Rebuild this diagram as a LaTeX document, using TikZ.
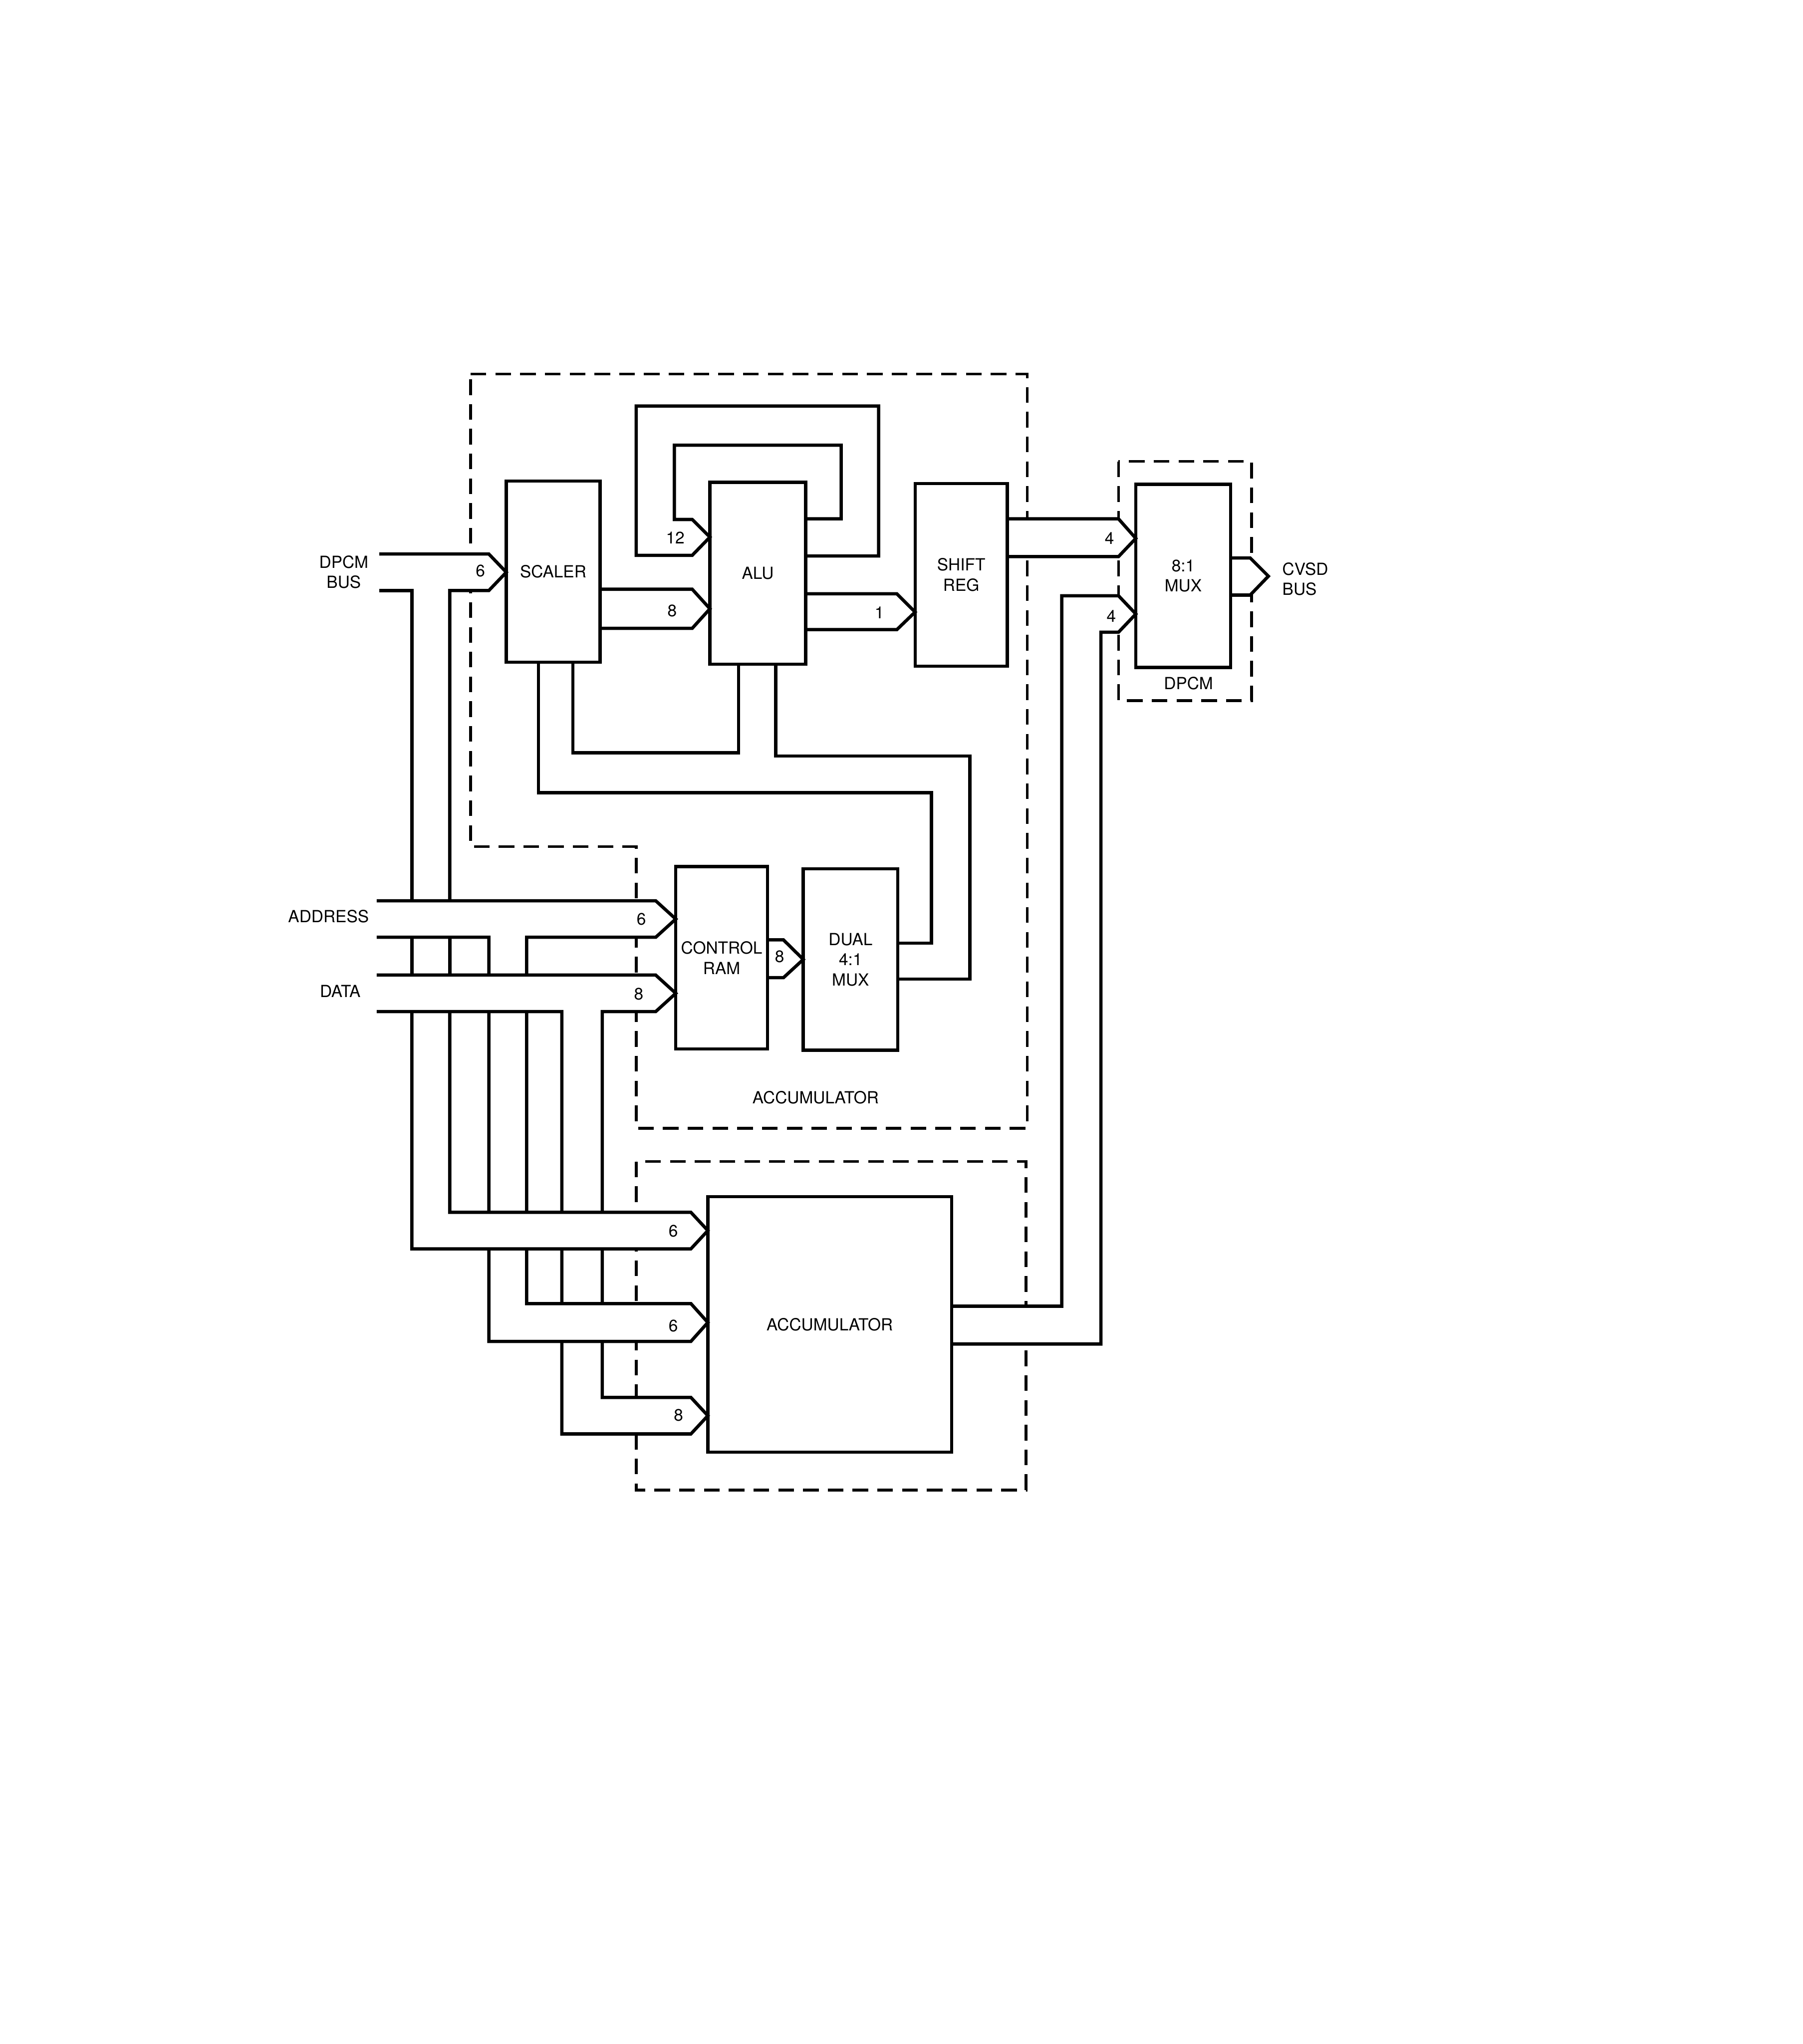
\documentclass[tikz,border=0pt]{standalone}
\usepackage{fontspec}
\setmainfont{TeX Gyre Heros}
\newcommand\figfont{\fontsize{12.8}{15.5}\selectfont}
\begin{document}
\begin{tikzpicture}[x=1pt,y=-1pt,
  wire/.style={line width=2.5pt, line join=miter},
  blk/.style={draw, line width=2.5pt, inner sep=0pt, outer sep=0pt, align=center, font=\figfont},
  dbox/.style={line width=2.1pt, dash pattern=on 12pt off 7pt},
  pipefill/.style={fill=white},
  lbl/.style={font=\figfont, inner sep=0pt, align=center}]
\fill[white] (0,0) rectangle (1383,1568);
\useasboundingbox (0,0) rectangle (1383,1568);

% ---- dashed enclosures
\draw[dbox] (361,287) -- (788,287) -- (788,865.5) -- (488,865.5) -- (488,649.5) -- (361,649.5) -- cycle;
\draw[dbox] (488,891) rectangle (787,1143);
\draw[dbox] (858,354) rectangle (960,537.5);

% ---- blocks (geometry only; drawn later)
\path node[blk, draw=none, minimum width=71.9pt, minimum height=139pt] (scaler) at (424.35,438.5) {}
      node[blk, draw=none, minimum width=73.4pt, minimum height=139.5pt] (alu) at (581.3,439.75) {}
      node[blk, draw=none, minimum width=70.7pt, minimum height=140pt] (shift) at (737.35,441) {}
      node[blk, draw=none, minimum width=72.7pt, minimum height=140.4pt] (mux) at (907.65,441.8) {}
      node[blk, draw=none, minimum width=70.3pt, minimum height=139.9pt] (ctrl) at (553.55,734.75) {}
      node[blk, draw=none, minimum width=72.5pt, minimum height=139.2pt] (dual) at (652.45,736.1) {}
      node[blk, draw=none, minimum width=187pt, minimum height=196pt] (acc) at (636.5,1016) {};

% ---- free ends
\coordinate (dpcmT) at (291,425);
\coordinate (dpcmB) at (291,453);
\coordinate (addrT) at (289,691);
\coordinate (addrB) at (289,719);
\coordinate (dataT) at (289,748);
\coordinate (dataB) at (289,776);
\coordinate (cvsd) at (973,442);

% ---- bus interiors (hide the dashed lines they cross)
\fill[pipefill] (dpcmT) -- (375,425) -- (scaler.west |- 0,439) -- (375,453) -- (dpcmB) -- cycle;
\fill[pipefill] (addrT) -- (503,691) -- (ctrl.west |- 0,705) -- (503,719) -- (addrB) -- cycle;
\fill[pipefill] (dataT) -- (503,748) -- (ctrl.west |- 0,762) -- (503,776) -- (dataB) -- cycle;
\fill[pipefill] (316,930) -- (530,930) -- (acc.west |- 0,944) -- (530,958) -- (316,958) -- cycle;
\fill[pipefill] (375,1000) -- (530,1000) -- (acc.west |- 0,1014.5) -- (530,1029) -- (375,1029) -- cycle;
\fill[pipefill] (431,1072) -- (530,1072) -- (acc.west |- 0,1086) -- (530,1100) -- (431,1100) -- cycle;
\fill[pipefill] (shift.east |- 0,398) -- (858,398) -- (mux.west |- 0,413) -- (858,427) -- (shift.east |- 0,427) -- cycle;
\fill[pipefill] (814.5,457) -- (858,457) -- (mux.west |- 0,471) -- (858,485) -- (814.5,485) -- cycle;
\fill[pipefill] (acc.east |- 0,1002) -- (844.5,1002) -- (844.5,1031) -- (acc.east |- 0,1031) -- cycle;
\fill[pipefill] (mux.east |- 0,428) -- (959,428) -- (cvsd) -- (959,456.5) -- (mux.east |- 0,456.5) -- cycle;

% ---- blocks
\node[blk, minimum width=71.9pt, minimum height=139pt] (scalerB) at (scaler) {SCALER};
\node[blk, minimum width=73.4pt, minimum height=139.5pt] (aluB) at (alu) {ALU};
\node[blk, minimum width=70.7pt, minimum height=140pt] (shiftB) at (shift) {SHIFT\\REG};
\node[blk, minimum width=72.7pt, minimum height=140.4pt] (muxB) at (mux) {8:1\\MUX};
\node[blk, minimum width=70.3pt, minimum height=139.9pt] (ctrlB) at (ctrl) {CONTROL\\RAM};
\node[blk, minimum width=72.5pt, minimum height=139.2pt] (dualB) at (dual) {DUAL\\4:1\\MUX};
\node[blk, minimum width=187pt, minimum height=196pt] (accB) at (acc) {ACCUMULATOR};

% ---- DPCM bus -> scaler and accumulator
\draw[wire] (dpcmT) -- (375,425) -- (scalerB.west |- 0,439) -- (375,453) -- (345,453) -- (345,691);
\draw[wire] (dpcmB) -- (316,453) -- (316,691);
\draw[wire] (345,719) -- (345,748) (316,719) -- (316,748);
\draw[wire] (345,776) -- (345,930) -- (530,930) -- (accB.west |- 0,944) -- (530,958) -- (316,958) -- (316,776);

% ---- ADDRESS bus
\draw[wire] (addrT) -- (503,691) -- (ctrlB.west |- 0,705) -- (503,719) -- (404,719) -- (404,748);
\draw[wire] (404,776) -- (404,930) (404,958) -- (404,1000) -- (530,1000) -- (accB.west |- 0,1014.5) -- (530,1029) -- (375,1029) -- (375,958)
  (375,930) -- (375,776) (375,748) -- (375,719) -- (addrB);

% ---- DATA bus
\draw[wire] (dataT) -- (503,748) -- (ctrlB.west |- 0,762) -- (503,776) -- (462,776) -- (462,930)
  (462,958) -- (462,1000) (462,1029) -- (462,1072) -- (530,1072) -- (accB.west |- 0,1086) -- (530,1100) -- (431,1100) -- (431,1029)
  (431,1000) -- (431,958) (431,930) -- (431,776) -- (dataB);

% ---- scaler -> ALU
\draw[wire] (scalerB.east |- 0,452) -- (531,452) -- (aluB.west |- 0,467) -- (531,482) -- (scalerB.east |- 0,482);

% ---- ALU feedback
\draw[wire] (aluB.east |- 0,426.5) -- (674,426.5) -- (674,311.5) -- (488,311.5) -- (488,426) -- (531,426) -- (aluB.west |- 0,412)
  -- (531,398.5) -- (517.3,398.5) -- (517.3,341.5) -- (645.3,341.5) -- (645.3,398) -- (aluB.east |- 0,398);

% ---- ALU -> shift reg
\draw[wire] (aluB.east |- 0,455.5) -- (688,455.5) -- (shiftB.west |- 0,469.5) -- (688,483) -- (aluB.east |- 0,483);

% ---- shift reg -> mux
\draw[wire] (shiftB.east |- 0,398) -- (858,398) -- (muxB.west |- 0,413) -- (858,427) -- (shiftB.east |- 0,427);

% ---- accumulator -> mux
\draw[wire] (accB.east |- 0,1002) -- (814.5,1002) -- (814.5,457) -- (858,457) -- (muxB.west |- 0,471) -- (858,485) -- (844.5,485) -- (844.5,1031) -- (accB.east |- 0,1031);

% ---- mux -> CVSD bus
\draw[wire] (muxB.east |- 0,428) -- (959,428) -- (cvsd) -- (959,456.5) -- (muxB.east |- 0,456.5);

% ---- control ram -> dual mux
\draw[wire] (ctrlB.east |- 0,721) -- (601,721) -- (dualB.west |- 0,736) -- (601,750) -- (ctrlB.east |- 0,750);

% ---- dual mux -> scaler / ALU
\draw[wire] (scalerB.south -| 413,0) -- (413,608) -- (714.5,608) -- (714.5,723.5) -- (dualB.east |- 0,723.5);
\draw[wire] (scalerB.south -| 439.5,0) -- (439.5,577.5) -- (566.5,577.5) -- (aluB.south -| 566.5,0);
\draw[wire] (aluB.south -| 595,0) -- (595,580) -- (744,580) -- (744,751) -- (dualB.east |- 0,751);

% ---- labels
\node[lbl] (tDpcmBus) at (263.7,438.8) {DPCM\\BUS};
\node[lbl] (tAddr) at (252,703) {ADDRESS};
\node[lbl] (tData) at (261,760.5) {DATA};
\node[lbl, anchor=west, align=left] (tCvsd) at (983.5,444.2) {CVSD\\BUS};
\node[lbl] (tDpcm) at (911.7,524) {DPCM};
\node[lbl] (tAcc) at (625.7,842) {ACCUMULATOR};

\node[lbl] (n1) at (368.5,438) {6};
\node[lbl] (n2) at (518,412.7) {12};
\node[lbl] (n3) at (515.6,468.7) {8};
\node[lbl] (n4) at (674.6,470) {1};
\node[lbl] (n5) at (851,413) {4};
\node[lbl] (n6) at (852.5,472.7) {4};
\node[lbl] (n7) at (492,705) {6};
\node[lbl] (n8) at (490,762.6) {8};
\node[lbl] (n9) at (598,733.8) {8};
\node[lbl] (n10) at (516.5,944.5) {6};
\node[lbl] (n11) at (516.5,1017) {6};
\node[lbl] (n12) at (520.5,1085.6) {8};
\end{tikzpicture}
\end{document}
